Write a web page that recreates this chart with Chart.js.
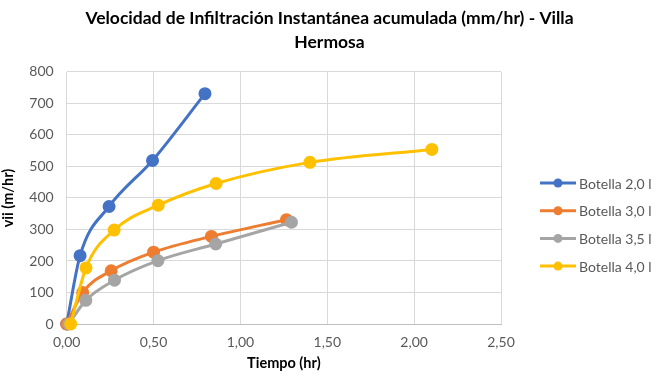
<!DOCTYPE html>
<html>
<head>
<meta charset="utf-8">
<script src="https://cdn.jsdelivr.net/npm/chart.js@4/dist/chart.umd.min.js"></script>
<style>
html,body{margin:0;padding:0;background:#fff;}
#wrap{width:659px;height:376px;position:relative;}
</style>
</head>
<body>
<div id="wrap"><canvas id="c" width="659" height="376"></canvas></div>
<script>
// ---- Data ----
const seriesLabels = ["Botella 2,0 l", "Botella 3,0 l", "Botella 3,5 l", "Botella 4,0 l"];
const seriesColors = ["#4472C4", "#ED7D31", "#A5A5A5", "#FFC000"];

const b20Time = [0, 0.077, 0.244, 0.494, 0.796];
const b20Vii  = [0, 217, 373, 519, 731];

const b30Time = [0, 0.092, 0.256, 0.50, 0.833, 1.265];
const b30Vii  = [0, 100, 169, 228, 278, 331];

const b35Time = [0.012, 0.11, 0.275, 0.525, 0.858, 1.294];
const b35Vii  = [0, 75, 139, 201, 254, 323];

const b40Time = [0.023, 0.111, 0.273, 0.527, 0.86, 1.40, 2.102];
const b40Vii  = [0, 178, 298, 377, 446, 513, 554];

const xTicks = [0, 0.5, 1.0, 1.5, 2.0, 2.5];
const yTicks = [0, 100, 200, 300, 400, 500, 600, 700, 800];

const titleLines = ["Velocidad de Infiltración Instantánea acumulada (mm/hr) - Villa", "Hermosa"];
const xTitle = "Tiempo (hr)";
const yTitle = "vii (m/hr)";

// ---- Build chart ----
function pts(xs, ys){ return xs.map((x,i)=>({x:x, y:ys[i]})); }
const allX = [b20Time, b30Time, b35Time, b40Time];
const allY = [b20Vii, b30Vii, b35Vii, b40Vii];

const FONT = "Lato, 'Open Sans', sans-serif";
const RIGHT_SPACE = 158;
const datasets = seriesLabels.map((lab, i) => ({
  label: lab,
  data: pts(allX[i], allY[i]),
  borderColor: seriesColors[i],
  backgroundColor: seriesColors[i],
  pointBackgroundColor: seriesColors[i],
  pointBorderColor: seriesColors[i],
  pointRadius: 5,
  pointHoverRadius: 5,
  borderWidth: 3,
  tension: 0.4,
  cubicInterpolationMode: 'monotone',
  fill: false,
  clip: false,
  order: seriesLabels.length - i
}));

const legendPlugin = {
  id: 'sideLegend',
  afterDraw(chart) {
    const ctx = chart.ctx;
    const x0 = 540, lineW = 36, textX = 579;
    const yStart = 183, step = 27.7;
    ctx.save();
    chart.data.datasets.forEach((ds, i) => {
      const y = yStart + i * step;
      ctx.strokeStyle = ds.borderColor;
      ctx.lineWidth = 3;
      ctx.beginPath();
      ctx.moveTo(x0, y);
      ctx.lineTo(x0 + lineW, y);
      ctx.stroke();
      ctx.fillStyle = ds.borderColor;
      ctx.beginPath();
      ctx.arc(x0 + lineW / 2, y, 4.5, 0, Math.PI * 2);
      ctx.fill();
      ctx.fillStyle = '#595959';
      ctx.font = "14px " + FONT;
      ctx.textAlign = 'left';
      ctx.textBaseline = 'middle';
      ctx.fillText(ds.label, textX, y + 1);
    });
    ctx.restore();
  }
};

new Chart(document.getElementById('c'), {
  type: 'line',
  data: { datasets: datasets },
  options: {
    responsive: false,
    animation: false,
    layout: { padding: 0 },
    plugins: {
      legend: { display: false },
      tooltip: { enabled: false },
      title: {
        display: true,
        text: titleLines,
        color: '#000',
        font: { family: FONT, size: 17.5, weight: 'bold', lineHeight: 1.37 },
        padding: { top: 6, bottom: 18 }
      }
    },
    scales: {
      x: {
        type: 'linear',
        min: 0, max: 2.5,
        afterBuildTicks(scale) { scale.ticks = xTicks.map(v => ({value: v})); },
        afterFit(scale) { scale.height = 52; scale.paddingRight = RIGHT_SPACE; scale.paddingLeft = 0; },
        ticks: {
          color: '#595959',
          font: { family: FONT, size: 14 },
          padding: 10,
          maxRotation: 0,
          callback: (v) => Number(v).toFixed(2).replace('.', ',')
        },
        grid: { color: '#D9D9D9', drawTicks: false, lineWidth: 1 },
        border: { color: '#BFBFBF', width: 1 },
        title: {
          display: true, text: xTitle, color: '#000',
          font: { family: FONT, size: 14.5, weight: 'bold' },
          padding: { top: 0, bottom: 4 }
        }
      },
      y: {
        type: 'linear',
        min: 0, max: 800,
        afterBuildTicks(scale) { scale.ticks = yTicks.map(v => ({value: v})); },
        afterFit(scale) { scale.width = 66.7; },
        ticks: {
          color: '#595959',
          font: { family: FONT, size: 14 },
          padding: 13
        },
        grid: { color: '#D9D9D9', drawTicks: false, lineWidth: 1 },
        border: { display: false },
        title: {
          display: true, text: yTitle, color: '#000',
          font: { family: FONT, size: 14.5, weight: 'bold' },
          padding: { top: 0, bottom: 8 }
        }
      }
    }
  },
  plugins: [legendPlugin]
});
</script>
</body>
</html>
